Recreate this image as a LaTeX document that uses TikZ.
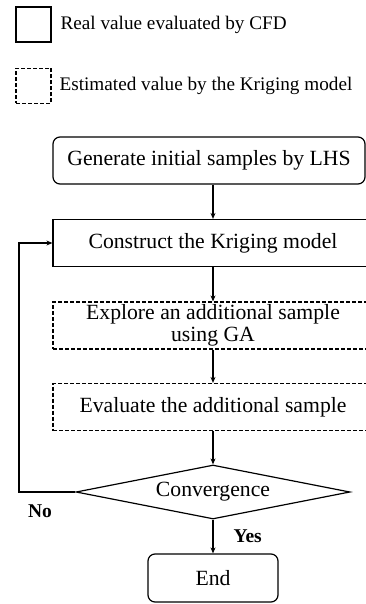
\documentclass[tikz,border=0pt]{standalone}
\usepackage{fontspec}
\setmainfont{Liberation Serif}
\usetikzlibrary{calc,shapes.geometric,arrows.meta}

\begin{document}
\begin{tikzpicture}[x=1pt, y=-1pt, line width=1.2pt,
    box/.style = {draw, rectangle, inner sep=0pt, minimum height=47pt, align=center, font=\fontsize{21.7}{21}\selectfont},
    estbox/.style = {box, dash pattern=on 4pt off 2pt},
    key/.style = {draw, rectangle, inner sep=0pt, minimum width=35pt, minimum height=35pt, line width=1.5pt},
    keytext/.style = {anchor=west, inner sep=0pt, font=\fontsize{19.2}{20}\selectfont},
    answer/.style = {inner sep=0pt, font=\fontsize{19.5}{20}\selectfont\bfseries},
    arr/.style = {-{Stealth[length=6pt, width=5pt]}}]
      \useasboundingbox (0,0) rectangle (366,604);
      \node [key] (realkey) at (33.5, 24.5) {};
      \node [key, dash pattern=on 4pt off 2pt] (estkey) at (33.5, 86) {};
      \node [keytext] (realtext) at (60, 25) {Real value evaluated by CFD};
      \node [keytext] (esttext) at (59, 86) {Estimated value by the Kriging model};

      \node [box, rounded corners=7pt, minimum width=312pt] (init) at (209, 160.5) {Generate initial samples by LHS};
      \node [box, minimum width=320pt] (kriging) at (213, 243) {Construct the Kriging model};
      \node [estbox, minimum width=320pt, font=\fontsize{21.7}{22.5}\selectfont] (explore) at (213, 325.5) {Explore an additional sample\\using GA};
      \node [estbox, minimum width=320pt] (evaluate) at (213, 407) {Evaluate the additional sample};
      \node [draw, diamond, aspect=5.07, minimum width=274pt, minimum height=54pt, inner sep=0pt,
             font=\fontsize{21.7}{21}\selectfont] (conv) at (213, 492) {Convergence};
      \node [box, rounded corners=7pt, minimum width=130pt, minimum height=48pt] (end) at (213, 578) {End};
      \coordinate (turn) at (19, 492);
      \node [answer] (no) at (40, 511) {No};

      \draw [arr] (init.south -| kriging.south) -- (kriging.north);
      \foreach \a/\b in {kriging/explore, explore/evaluate, evaluate/conv}
               {
                 \draw [arr] (\a.south) -- (\b.north);
               }
      \draw [arr] (conv.south) -- node[answer, right, xshift=20pt] {Yes} (end.north);
      \draw [arr] (conv.west) -- (turn) |- (kriging.west);
    \end{tikzpicture}
\end{document}
